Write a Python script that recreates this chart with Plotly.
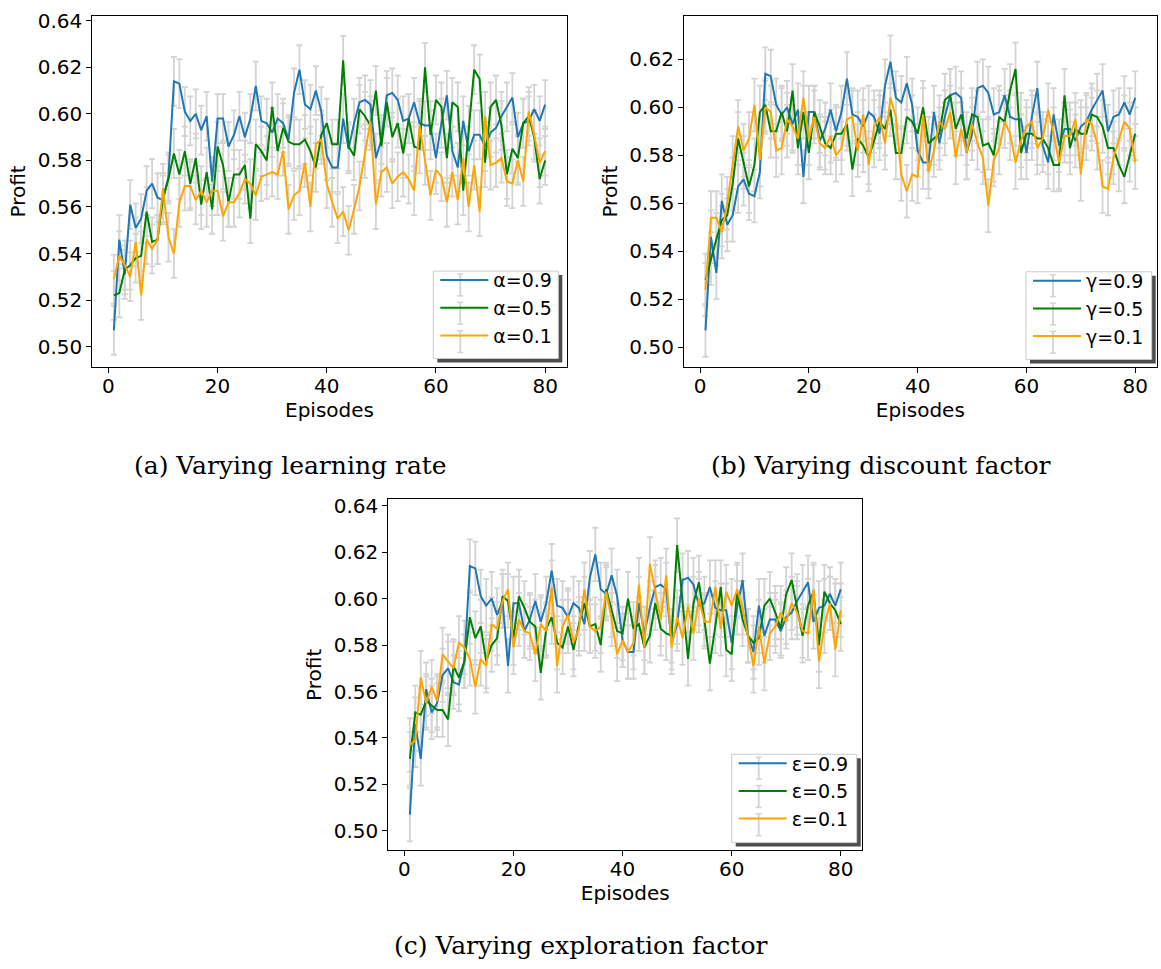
import plotly.graph_objects as go

episodes = list(range(1, 81))

# shared baseline series (0.9 setting)
profit_09 = [0.507,0.546,0.531,0.561,0.551,0.555,0.567,0.570,0.564,0.563,
             0.573,0.614,0.613,0.601,0.597,0.600,0.593,0.599,0.571,0.598,
             0.598,0.586,0.591,0.599,0.590,0.598,0.612,0.597,0.596,0.592,
             0.598,0.596,0.589,0.609,0.619,0.604,0.602,0.610,0.601,0.582,
             0.577,0.577,0.598,0.585,0.596,0.605,0.606,0.604,0.581,0.589,
             0.608,0.609,0.606,0.597,0.598,0.605,0.596,0.595,0.595,0.581,
             0.596,0.608,0.584,0.577,0.597,0.584,0.591,0.591,0.586,0.592,
             0.594,0.599,0.603,0.607,0.590,0.596,0.597,0.602,0.597,0.604]

alpha_05 = [0.522,0.523,0.533,0.535,0.538,0.539,0.558,0.545,0.546,0.564,
            0.572,0.583,0.574,0.584,0.570,0.581,0.561,0.575,0.559,0.586,
            0.578,0.562,0.574,0.574,0.578,0.555,0.587,0.584,0.580,0.603,
            0.584,0.594,0.588,0.587,0.587,0.589,0.584,0.577,0.591,0.596,
            0.587,0.587,0.623,0.586,0.582,0.602,0.599,0.595,0.610,0.586,
            0.605,0.590,0.596,0.583,0.598,0.586,0.585,0.620,0.591,0.606,
            0.603,0.581,0.605,0.603,0.567,0.593,0.619,0.615,0.579,0.603,
            0.606,0.595,0.574,0.585,0.581,0.596,0.599,0.590,0.572,0.580]

alpha_01 = [0.529,0.539,0.535,0.530,0.545,0.522,0.546,0.542,0.546,0.568,
            0.547,0.540,0.562,0.569,0.569,0.563,0.567,0.562,0.567,0.567,
            0.556,0.562,0.562,0.566,0.572,0.570,0.565,0.573,0.574,0.575,
            0.574,0.584,0.559,0.565,0.567,0.579,0.560,0.587,0.589,0.570,
            0.562,0.555,0.558,0.550,0.559,0.569,0.583,0.597,0.561,0.575,
            0.577,0.570,0.573,0.575,0.572,0.567,0.595,0.580,0.565,0.576,
            0.573,0.562,0.575,0.563,0.581,0.560,0.578,0.558,0.599,0.578,
            0.579,0.581,0.571,0.570,0.580,0.571,0.601,0.591,0.579,0.584]

gamma_05 = [0.528,0.537,0.545,0.553,0.555,0.568,0.587,0.577,0.567,0.576,
            0.598,0.601,0.590,0.590,0.598,0.590,0.607,0.583,0.598,0.581,
            0.598,0.592,0.585,0.583,0.589,0.589,0.593,0.574,0.587,0.584,
            0.579,0.586,0.594,0.591,0.599,0.581,0.581,0.596,0.594,0.589,
            0.600,0.585,0.587,0.589,0.603,0.605,0.591,0.597,0.587,0.597,
            0.596,0.584,0.585,0.580,0.596,0.594,0.607,0.616,0.581,0.589,
            0.589,0.587,0.587,0.583,0.576,0.576,0.605,0.583,0.591,0.589,
            0.589,0.597,0.596,0.592,0.583,0.583,0.576,0.571,0.580,0.589]

gamma_01 = [0.524,0.554,0.554,0.548,0.560,0.577,0.592,0.582,0.587,0.601,
            0.578,0.600,0.598,0.582,0.583,0.595,0.592,0.587,0.604,0.587,
            0.596,0.585,0.583,0.588,0.580,0.583,0.595,0.596,0.582,0.597,
            0.576,0.592,0.596,0.585,0.604,0.596,0.572,0.565,0.572,0.571,
            0.597,0.573,0.582,0.594,0.591,0.598,0.579,0.591,0.581,0.593,
            0.585,0.579,0.559,0.578,0.583,0.594,0.589,0.577,0.586,0.592,
            0.594,0.583,0.587,0.599,0.589,0.577,0.588,0.588,0.595,0.572,
            0.595,0.593,0.585,0.567,0.566,0.579,0.587,0.594,0.591,0.577]

eps_05 = [0.531,0.551,0.550,0.556,0.554,0.552,0.552,0.548,0.571,0.566,
          0.573,0.592,0.583,0.588,0.573,0.580,0.583,0.601,0.599,0.583,
          0.601,0.596,0.590,0.588,0.568,0.587,0.592,0.581,0.579,0.588,
          0.578,0.589,0.598,0.588,0.589,0.580,0.604,0.595,0.586,0.585,
          0.600,0.587,0.589,0.579,0.584,0.598,0.587,0.585,0.584,0.623,
          0.597,0.574,0.598,0.607,0.591,0.572,0.588,0.605,0.578,0.576,
          0.603,0.591,0.584,0.581,0.583,0.597,0.600,0.594,0.587,0.602,
          0.608,0.596,0.584,0.597,0.603,0.580,0.603,0.598,0.595,0.589]

eps_01 = [0.537,0.539,0.566,0.555,0.562,0.556,0.576,0.573,0.570,0.581,
          0.579,0.574,0.562,0.574,0.571,0.589,0.587,0.599,0.604,0.579,
          0.591,0.586,0.585,0.576,0.589,0.586,0.605,0.571,0.588,0.593,
          0.581,0.587,0.604,0.588,0.586,0.588,0.603,0.591,0.576,0.582,
          0.577,0.581,0.606,0.579,0.615,0.603,0.591,0.610,0.579,0.592,
          0.583,0.597,0.585,0.600,0.590,0.590,0.605,0.587,0.603,0.597,
          0.604,0.596,0.584,0.571,0.588,0.572,0.585,0.588,0.594,0.590,
          0.598,0.594,0.586,0.585,0.604,0.573,0.588,0.598,0.578,0.595]

err_a = 0.0105
err_b = 0.0110
err_c = 0.0115

labels_a = ["α=0.9", "α=0.5", "α=0.1"]
labels_b = ["γ=0.9", "γ=0.5", "γ=0.1"]
labels_c = ["ε=0.9", "ε=0.5", "ε=0.1"]

captions = ["(a) Varying learning rate", "(b) Varying discount factor",
            "(c) Varying exploration factor"]

x_ticks = [0, 20, 40, 60, 80]
y_ticks_a = [0.50, 0.52, 0.54, 0.56, 0.58, 0.60, 0.62, 0.64]
y_ticks_b = [0.50, 0.52, 0.54, 0.56, 0.58, 0.60, 0.62]
y_ticks_c = [0.50, 0.52, 0.54, 0.56, 0.58, 0.60, 0.62, 0.64]

colors = ["#1f77b4", "#008000", "#ffa500"]

W, H = 1161, 969
FONT = "DejaVu Sans"

fig = go.Figure()

panels = [
    ("x", "y", [profit_09, alpha_05, alpha_01], labels_a, err_a, "legend"),
    ("x2", "y2", [profit_09, gamma_05, gamma_01], labels_b, err_b, "legend2"),
    ("x3", "y3", [profit_09, eps_05, eps_01], labels_c, err_c, "legend3"),
]

for xa, ya, series, labels, err, leg in panels:
    # error bars first (beneath the lines)
    for s in series:
        fig.add_trace(go.Scatter(
            x=episodes, y=s, xaxis=xa, yaxis=ya, mode="markers",
            marker=dict(size=1, color="rgba(0,0,0,0)"),
            error_y=dict(type="constant", value=err, color="#d3d3d3",
                         thickness=1.8, width=3),
            showlegend=False, hoverinfo="skip"))
    for s, lab, c in zip(series, labels, colors):
        fig.add_trace(go.Scatter(
            x=episodes, y=s, xaxis=xa, yaxis=ya, mode="lines",
            line=dict(color=c, width=2), name=lab, legend=leg))

def px_x(p):
    return p / W

def px_y(p):
    return 1 - p / H

axis_common = dict(showline=True, linecolor="black", linewidth=1.2, mirror=True,
                   ticks="outside", ticklen=5, tickwidth=1.2, tickcolor="black",
                   showgrid=False, zeroline=False,
                   tickfont=dict(family=FONT, size=20, color="black"))

doms = {
    "a": dict(x=[px_x(92.3), px_x(566.7)], y=[px_y(362.7), px_y(9)]),
    "b": dict(x=[px_x(684), px_x(1156.7)], y=[px_y(362.7), px_y(9)]),
    "c": dict(x=[px_x(388.3), px_x(862.3)], y=[px_y(849.3), px_y(496)]),
}

xtitle = dict(text="Episodes", font=dict(family=FONT, size=20, color="black"), standoff=0)
ytitle = dict(text="Profit", font=dict(family=FONT, size=20, color="black"), standoff=6)

fig.update_layout(
    xaxis=dict(domain=doms["a"]["x"], anchor="y", range=[-2.95, 83.95],
               tickvals=x_ticks, title=xtitle, ticklabelstandoff=-4, **axis_common),
    yaxis=dict(domain=doms["a"]["y"], anchor="x", range=[0.4912, 0.6421],
               tickvals=y_ticks_a, tickformat=".2f", title=ytitle, **axis_common),
    xaxis2=dict(domain=doms["b"]["x"], anchor="y2", range=[-2.95, 83.95],
                tickvals=x_ticks, title=xtitle, ticklabelstandoff=-4, **axis_common),
    yaxis2=dict(domain=doms["b"]["y"], anchor="x2", range=[0.4917, 0.6381],
                tickvals=y_ticks_b, tickformat=".2f", title=ytitle, **axis_common),
    xaxis3=dict(domain=doms["c"]["x"], anchor="y3", range=[-2.95, 83.95],
                tickvals=x_ticks, title=xtitle, ticklabelstandoff=-4, **axis_common),
    yaxis3=dict(domain=doms["c"]["y"], anchor="x3", range=[0.4917, 0.6427],
                tickvals=y_ticks_c, tickformat=".2f", title=ytitle, **axis_common),
)

# legend boxes (with shadow) at bottom-right of each panel
legend_boxes = [(433.3, 266, 558.3, 354), (1026, 266.7, 1151.7, 355), (731.7, 752.7, 856.7, 841.7)]
shapes = []
legends = {}
for i, (l, t, r, b) in enumerate(legend_boxes):
    shapes.append(dict(type="rect", xref="paper", yref="paper",
                       x0=px_x(l + 4), x1=px_x(r + 4), y0=px_y(b + 4), y1=px_y(t + 4),
                       fillcolor="#4d4d4d", line=dict(width=0), layer="above"))
    shapes.append(dict(type="rect", xref="paper", yref="paper",
                       x0=px_x(l), x1=px_x(r), y0=px_y(b), y1=px_y(t),
                       fillcolor="white", line=dict(color="#cccccc", width=1), layer="above"))
    # grey error-bar glyph behind each legend line
    gx = l + 27
    for k in range(3):
        cy = t + 14 + 28.5 * k
        shapes.append(dict(type="line", xref="paper", yref="paper",
                           x0=px_x(gx), x1=px_x(gx), y0=px_y(cy - 11), y1=px_y(cy + 11),
                           line=dict(color="#d3d3d3", width=1.8), layer="above"))
        for dy in (-11, 11):
            shapes.append(dict(type="line", xref="paper", yref="paper",
                               x0=px_x(gx - 3), x1=px_x(gx + 3),
                               y0=px_y(cy + dy), y1=px_y(cy + dy),
                               line=dict(color="#d3d3d3", width=1.5), layer="above"))
    key = "legend" if i == 0 else f"legend{i+1}"
    legends[key] = dict(x=px_x(l + 2), y=px_y(t - 10), xanchor="left", yanchor="top",
                        bgcolor="rgba(0,0,0,0)", borderwidth=0,
                        font=dict(family=FONT, size=19, color="black"),
                        tracegroupgap=0, itemwidth=48)

annotations = []
cap_pos = [(290, 462), (881, 462), (580, 945)]
for cap, (cx, cy) in zip(captions, cap_pos):
    annotations.append(dict(text=cap, x=px_x(cx), y=px_y(cy), xref="paper", yref="paper",
                            showarrow=False, xanchor="center", yanchor="middle",
                            font=dict(family="DejaVu Serif", size=25, color="black")))

fig.update_layout(
    width=W, height=H, margin=dict(l=0, r=0, t=0, b=0),
    paper_bgcolor="white", plot_bgcolor="white",
    shapes=shapes, annotations=annotations, **legends,
)

fig.write_html("out.html")
